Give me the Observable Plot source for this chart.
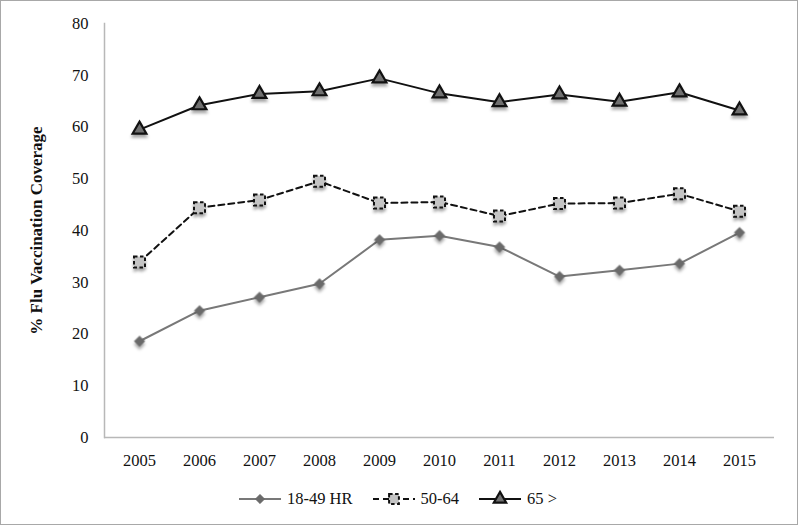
<!DOCTYPE html>
<html><head><meta charset="utf-8">
<script src="https://cdn.jsdelivr.net/npm/d3@7"></script>
<script src="https://cdn.jsdelivr.net/npm/@observablehq/plot@0.6"></script>
<style>
body{margin:0;background:#fff}
#wrap{position:relative;width:800px;height:527px;overflow:hidden;background:#fff;font-family:"Liberation Serif","DejaVu Serif",serif}
#frame{position:absolute;left:0;top:0;width:796px;height:523px;border:1.5px solid #a8a8a8;pointer-events:none}
#chart{position:absolute;left:0;top:0}
#legend{position:absolute;left:-2px;top:489px;width:800px;display:flex;justify-content:center;align-items:center;font-size:16.5px;color:#111}
#legend .item{display:flex;align-items:center;margin:0 10px}
#legend svg{margin-right:6px;overflow:visible}
svg g[aria-label=dot]{filter:drop-shadow(0px 3px 1.5px rgba(0,0,0,0.35))}
</style></head>
<body>
<div id="wrap"><div id="chart"></div><div id="legend"></div><div id="frame"></div></div>
<script>
const years = ["2005","2006","2007","2008","2009","2010","2011","2012","2013","2014","2015"];
const hr18_49 = [18.6,24.5,27.1,29.7,38.2,39.0,36.8,31.1,32.3,33.6,39.6];
const age50_64 = [33.9,44.4,45.9,49.5,45.3,45.5,42.8,45.2,45.3,47.1,43.7];
const age65 = [59.5,64.2,66.4,66.9,69.4,66.5,64.8,66.3,64.9,66.7,63.2];
const yTicks = [0,10,20,30,40,50,60,70,80];
const seriesNames = ["18-49 HR","50-64","65 >"];
const yLabel = "% Flu Vaccination Coverage";

const styles = [
  {stroke:"#787878", dash:null, symbol:"diamond2", fill:"#6a6a6a", mstroke:"#6a6a6a", r:4.8, mw:0.5},
  {stroke:"#111", dash:"6,4", symbol:"square", fill:"#c4c4c4", mstroke:"#111", r:6.2, mw:2, mdash:"3.5,2.5"},
  {stroke:"#111", dash:null, symbol:"triangle", fill:"#707070", mstroke:"#111", r:5.1, mw:2.2}
];
const seriesVals = [hr18_49, age50_64, age65];
const rows = seriesVals.map((vals, s) => years.map((y, i) => ({year:y, value:vals[i], series:seriesNames[s]})));

const marks = [
  Plot.frame({anchor:"left", stroke:"#b8b8b8", strokeWidth:1.5}),
  Plot.ruleY([0], {stroke:"#b8b8b8", strokeWidth:1.5}),
  Plot.axisY({ticks:yTicks, tickSize:0, tickPadding:16, label:null, fontSize:16.5}),
  Plot.axisX({tickSize:0, tickPadding:17, label:null, fontSize:16.5}),
  Plot.text([yLabel], {frameAnchor:"left", textAnchor:"middle", rotate:-90, dx:-68, fontWeight:"bold", fontSize:17})
];
rows.forEach((data, s) => {
  const st = styles[s];
  marks.push(Plot.line(data, {x:"year", y:"value", stroke:st.stroke, strokeWidth:2, strokeDasharray:st.dash}));
});
rows.forEach((data, s) => {
  const st = styles[s];
  marks.push(Plot.dot(data, {x:"year", y:"value", symbol:st.symbol, r:st.r, fill:st.fill, stroke:st.mstroke, strokeWidth:st.mw, strokeDasharray:st.mdash}));
});

const chart = Plot.plot({
  width:800, height:480,
  marginLeft:104, marginRight:26, marginTop:23, marginBottom:43,
  style:{fontFamily:'"Liberation Serif","DejaVu Serif",serif', fontSize:"16.5px", color:"#111", background:"transparent"},
  x:{type:"point", domain:years, padding:0.5},
  y:{domain:[0,80]},
  marks
});
document.getElementById("chart").appendChild(chart);

// legend
const leg = d3.select("#legend");
const symMap = {diamond2:d3.symbolDiamond2, square:d3.symbolSquare, triangle:d3.symbolTriangle};
seriesNames.forEach((name, s) => {
  const st = styles[s];
  const item = leg.append("div").attr("class","item");
  const svg = item.append("svg").attr("width",42).attr("height",16);
  svg.append("line").attr("x1",0).attr("x2",42).attr("y1",8).attr("y2",8)
    .attr("stroke",st.stroke).attr("stroke-width",2).attr("stroke-dasharray",st.dash);
  svg.append("path").attr("transform","translate(21,8)")
    .attr("d", d3.symbol(symMap[st.symbol], Math.PI*st.r*st.r*0.8)())
    .attr("fill",st.fill).attr("stroke",st.mstroke).attr("stroke-width",st.mw).attr("stroke-dasharray",st.mdash);
  item.append("span").text(name);
});
</script>
</body></html>
